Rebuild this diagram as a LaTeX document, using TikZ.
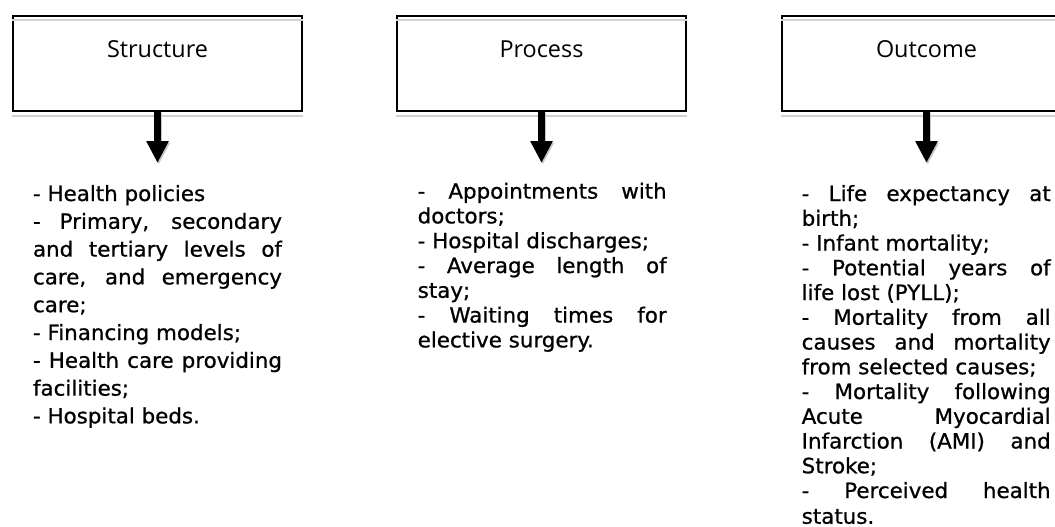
\documentclass[tikz,border=0pt]{standalone}
\usepackage{fontspec}
\usepackage{graphicx}
\usetikzlibrary{arrows.meta}
\newfontfamily\labelfont{Open Sans}
\newfontfamily\bodyfont[FakeBold=0.8]{DejaVu Sans}
\newlength\natw
\hbadness=10000
\hfuzz=40pt
% one justified line (spaces stretched) and one left-set line of a column
\newcommand\jline[1]{\hbox to \colw pt{#1}}
\newcommand\lline[1]{\hbox to \colw pt{#1\hfil}}
% a column of lines with a fixed baseline pitch
\newcommand\itemcol[2]{\scalebox{\sx}[1]{\vtop{\bodyfont\fontsize{21}{#1}\selectfont
  \baselineskip=#1\relax\lineskiplimit=-50pt #2}}}
\tikzset{
  catbox/.style={draw, line width=1.5pt, minimum width=289pt, minimum height=95pt,
    inner sep=0pt, font=\labelfont\fontsize{23.4}{28}\selectfont,
    text height=16.5pt, text depth=27.7pt},
  shadowline/.style={draw=black!18, line width=1.6pt},
  arrowdown/.style={line width=7pt, -{Triangle[length=22pt,width=21pt]}},
  arrowshade/.style={arrowdown, draw=black!22},
  itemlist/.style={anchor=base west, inner sep=0pt, outer sep=0pt},
}
\begin{document}
% horizontal squeeze that gives the body face the width of the printed lines
\settowidth\natw{\bodyfont\fontsize{21}{25}\selectfont
  - Hospital discharges;- Infant mortality;- Health policies- Financing models;from selected causes;elective surgery.}%
\pgfmathsetmacro\sx{1210.6/\natw}%
\pgfmathsetmacro\colw{249/\sx}%
\begin{tikzpicture}[x=1pt, y=-1pt]
\useasboundingbox (0,0) rectangle (1055,527);
\clip (0,0) rectangle (1055,527);

% the three category boxes
\node[catbox] (s) at (157.5,63.5) {Structure};
\node[catbox] (p) at (541.5,63.5) {Process};
\node[catbox] (o) at (926.5,63.5) {Outcome};

% light edge lines under the top and bottom borders
\foreach \b in {s,p,o} {
  \draw[shadowline] ([yshift=-5pt]\b.north west) -- ([yshift=-5pt]\b.north east);
  \draw[shadowline] ([yshift=-4.5pt]\b.south west) -- ([yshift=-4.5pt]\b.south east);
}

% arrow tips
\coordinate (st) at (157.5,163);
\coordinate (pt) at (541.5,163);
\coordinate (ot) at (926.5,163);

\foreach \b/\t in {s/st,p/pt,o/ot} {
  \draw[arrowshade, transform canvas={shift={(1.3pt,-1.6pt)}}] (\b.south) -- (\t);
  \draw[arrowdown] (\b.south) -- (\t);
}

% indicator lists
\node[itemlist] (sl) at (33,201) {\itemcol{27.8pt}{%
  \lline{- Health policies}
  \jline{- Primary, secondary}
  \jline{and tertiary levels of}
  \jline{care, and emergency}
  \lline{care;}
  \lline{- Financing models;}
  \jline{- Health care providing}
  \lline{facilities;}
  \lline{- Hospital beds.}}};

\node[itemlist] (pl) at (417.7,198.6) {\itemcol{24.8pt}{%
  \jline{- Appointments with}
  \lline{doctors;}
  \lline{- Hospital discharges;}
  \jline{- Average length of}
  \lline{stay;}
  \jline{- Waiting times for}
  \lline{elective surgery.}}};

\node[itemlist] (ol) at (801.7,201) {\itemcol{24.75pt}{%
  \jline{- Life expectancy at}
  \lline{birth;}
  \lline{- Infant mortality;}
  \jline{- Potential years of}
  \lline{life lost (PYLL);}
  \jline{- Mortality from all}
  \jline{causes and mortality}
  \lline{from selected causes;}
  \jline{- Mortality following}
  \jline{Acute Myocardial}
  \jline{Infarction (AMI) and}
  \lline{Stroke;}
  \jline{- Perceived health}
  \vskip1pt
  \lline{status.}}};
\end{tikzpicture}
\end{document}
